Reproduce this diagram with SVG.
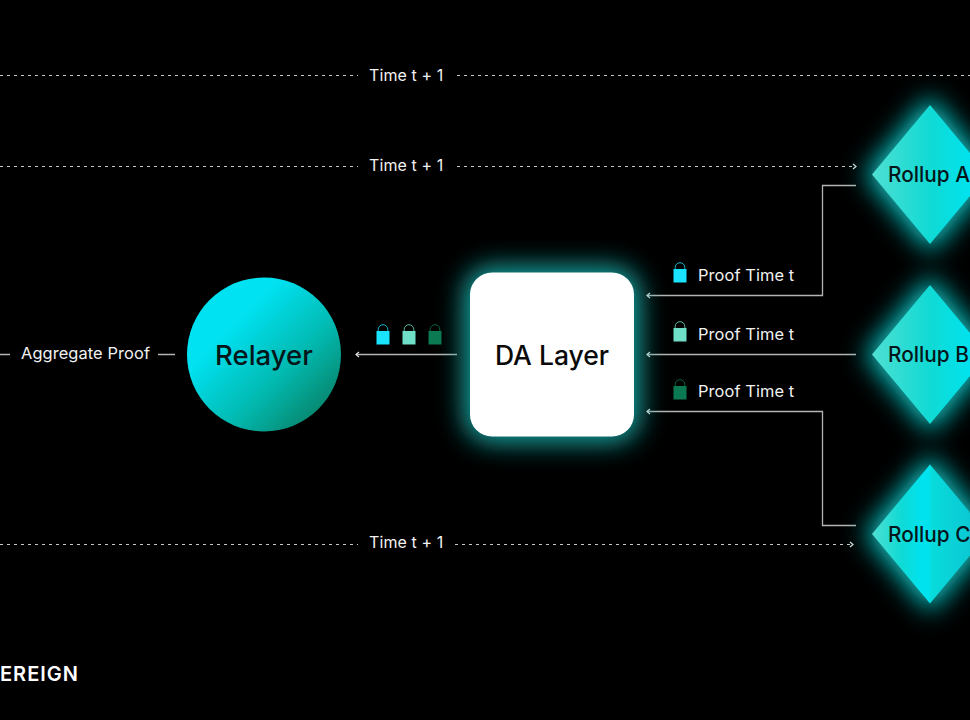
<svg xmlns="http://www.w3.org/2000/svg" width="970" height="720" viewBox="0 0 970 720">
<style>
text{font-family:Inter,"Liberation Sans",sans-serif}
.lb{fill:#f2f2f2;font-size:16.400px;letter-spacing:.1px}
.tm{fill:#f2f2f2;font-size:16px;letter-spacing:.1px}
.nd{fill:#04161a;font-size:20.800px;font-weight:500}
.sol{fill:none;stroke:#b4b4b4;stroke-width:1.300}
.dash{fill:none;stroke:#c8c8c8;stroke-width:1.200;stroke-dasharray:3 4}
.ah{fill:none;stroke:#e0e0e0;stroke-width:1.200}
</style>
<defs>
<filter id="glow" x="-50%" y="-50%" width="200%" height="200%"><feGaussianBlur stdDeviation="13"/></filter>
<linearGradient id="rel" x1="0" y1="0" x2="1" y2="1"><stop offset=".3" stop-color="#00e2f2"/><stop offset=".62" stop-color="#02b9b0"/><stop offset="1" stop-color="#0a6e4e"/></linearGradient>
<linearGradient id="dia" x1="0" y1="0" x2="1" y2="0"><stop offset="0" stop-color="#4fdfd2"/><stop offset=".5" stop-color="#10dad4"/><stop offset=".85" stop-color="#00e2ee"/></linearGradient>
<linearGradient id="diaC" x1="0" y1="0" x2="1" y2="0"><stop offset="0" stop-color="#08dcdc"/><stop offset="1" stop-color="#0cc0cf"/></linearGradient>
<marker id="ar" markerWidth="8" markerHeight="8" refX="5" refY="4" orient="auto" markerUnits="userSpaceOnUse"><path d="M2 1.500L5 4L2 6.500" class="ah"/></marker>
<g id="lock"><path d="M-4.800 0V-2.500A4.800 4.800 0 0 1 4.800 -2.500V0" fill="none" stroke="currentColor" stroke-width=".8"/><rect x="-6.500" y="-1" width="13" height="13.500" fill="currentColor"/></g>
</defs>
<rect width="970" height="720" fill="#000"/>
<g id="connectors">
<path class="dash" d="M0 75.500H358M457 75.500H970"/>
<path class="dash" d="M0 166.500H358M457 166.500H856" marker-end="url(#ar)"/>
<path class="dash" d="M0 544.500H358M455 544.500H853" marker-end="url(#ar)"/>
<path class="sol" d="M856 185.500H822.500V295.500H647" marker-end="url(#ar)"/>
<path class="sol" d="M856 354.500H647" marker-end="url(#ar)"/>
<path class="sol" d="M856 525.500H822.500V411.500H647" marker-end="url(#ar)"/>
<path class="sol" d="M457 354.500H356" marker-end="url(#ar)"/>
<path class="sol" d="M0 354.500H10M158 354.500H175"/>
</g>
<g id="relayer"><circle cx="264" cy="354.500" r="77" fill="url(#rel)"/><text x="264" y="364.500" text-anchor="middle" fill="#04161a" style="font-size:27.500px;font-weight:500">Relayer</text></g>
<g id="da-layer"><rect x="464" y="266.500" width="176" height="176" rx="28" fill="#12a8a4" filter="url(#glow)"/><rect x="470" y="272.500" width="164" height="164" rx="22" fill="#fff"/><text x="552" y="364.500" text-anchor="middle" fill="#0a0a0a" style="font-size:26.500px;font-weight:500">DA Layer</text></g>
<g id="rollup-a"><path d="M930 96L995 174.500L930 253L865 174.500Z" fill="#10c8c8" filter="url(#glow)"/><path d="M930 105L988 174.500L930 244L872 174.500Z" fill="url(#dia)"/><text class="nd" x="888" y="182">Rollup A</text></g>
<g id="rollup-b"><path d="M930 276L995 354.500L930 433L865 354.500Z" fill="#10c8c8" filter="url(#glow)"/><path d="M930 285L988 354.500L930 424L872 354.500Z" fill="url(#dia)"/><text class="nd" x="888" y="362">Rollup B</text></g>
<g id="rollup-c"><path d="M930 455.500L995 534L930 612.500L865 534Z" fill="#10c8c8" filter="url(#glow)"/><path d="M930 464.500L872 534L930 603.500Z" fill="url(#dia)"/><path d="M930 464.500L988 534L930 603.500Z" fill="url(#diaC)"/><text class="nd" x="888" y="542">Rollup C</text></g>
<g id="labels">
<text class="tm" x="369" y="81">Time t + 1</text>
<text class="tm" x="369" y="170.500">Time t + 1</text>
<text class="tm" x="369" y="548">Time t + 1</text>
<text class="lb" x="21" y="359">Aggregate Proof</text>
<text class="lb" x="698" y="281">Proof Time t</text>
<text class="lb" x="698" y="340">Proof Time t</text>
<text class="lb" x="698" y="397">Proof Time t</text>
</g>
<g id="locks">
<use href="#lock" x="680" y="270" color="#19e3ff"/>
<use href="#lock" x="680" y="329" color="#6fdfc8"/>
<use href="#lock" x="680" y="387" color="#0b7a52"/>
<use href="#lock" x="383" y="332" color="#19e3ff"/>
<use href="#lock" x="409" y="332" color="#6fdfc8"/>
<use href="#lock" x="435" y="332" color="#0b7a52"/>
</g>
<text id="brand" x="0" y="681" fill="#fff" style="font-size:20px;font-weight:600;letter-spacing:1px">EREIGN</text>
</svg>
